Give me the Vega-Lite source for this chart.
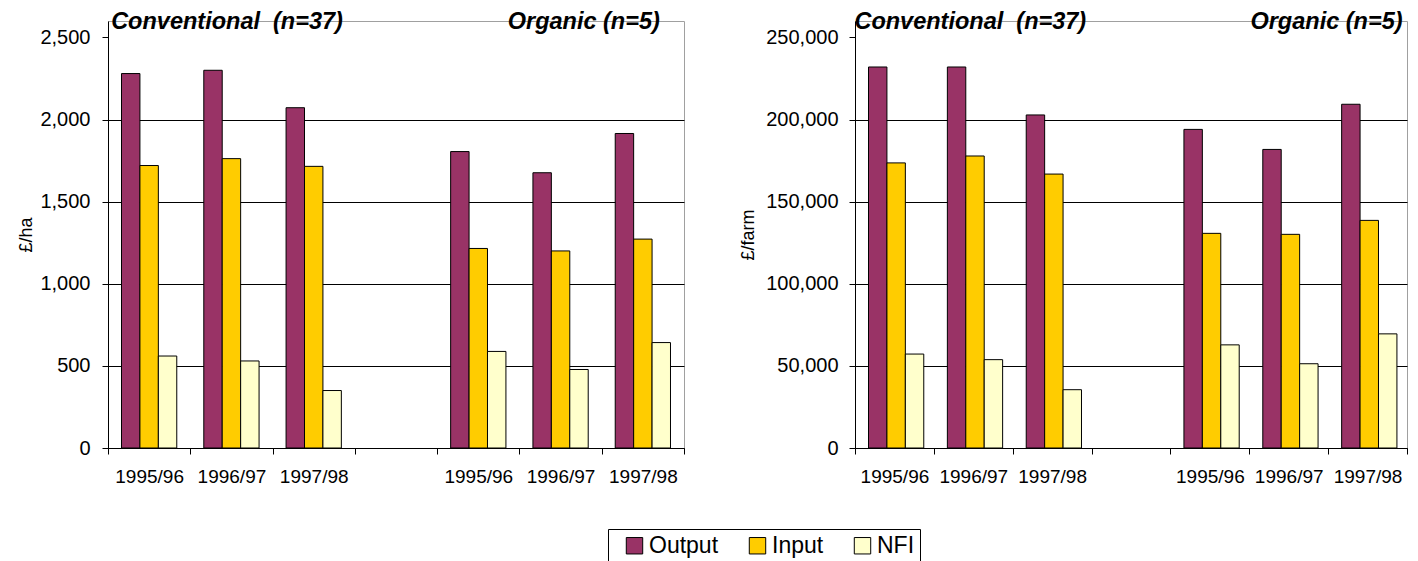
{
  "$schema": "https://vega.github.io/schema/vega-lite/v6.json",
  "background": "white",
  "padding": {"left": 17, "top": 9, "right": 5, "bottom": 0},
  "spacing": 54,
  "config": {
    "font": "Liberation Sans",
    "view": {"stroke": "#a0a0a0", "strokeWidth": 1},
    "axis": {"labelColor": "black", "titleColor": "black", "domainColor": "black", "tickColor": "black", "labelFont": "Liberation Sans", "titleFont": "Liberation Sans", "titleFontWeight": "normal"}
  },
  "datasets": {
    "ha": [
      {"period": "C1995/96", "series": "Output", "value": 2280},
      {"period": "C1995/96", "series": "Input", "value": 1720},
      {"period": "C1995/96", "series": "NFI", "value": 560},
      {"period": "C1996/97", "series": "Output", "value": 2300},
      {"period": "C1996/97", "series": "Input", "value": 1762},
      {"period": "C1996/97", "series": "NFI", "value": 530},
      {"period": "C1997/98", "series": "Output", "value": 2072},
      {"period": "C1997/98", "series": "Input", "value": 1715},
      {"period": "C1997/98", "series": "NFI", "value": 350},
      {"period": "O1995/96", "series": "Output", "value": 1805},
      {"period": "O1995/96", "series": "Input", "value": 1215},
      {"period": "O1995/96", "series": "NFI", "value": 588},
      {"period": "O1996/97", "series": "Output", "value": 1676},
      {"period": "O1996/97", "series": "Input", "value": 1200},
      {"period": "O1996/97", "series": "NFI", "value": 478},
      {"period": "O1997/98", "series": "Output", "value": 1915},
      {"period": "O1997/98", "series": "Input", "value": 1272},
      {"period": "O1997/98", "series": "NFI", "value": 642}
    ],
    "farm": [
      {"period": "C1995/96", "series": "Output", "value": 232000},
      {"period": "C1995/96", "series": "Input", "value": 173600},
      {"period": "C1995/96", "series": "NFI", "value": 57200},
      {"period": "C1996/97", "series": "Output", "value": 232000},
      {"period": "C1996/97", "series": "Input", "value": 177800},
      {"period": "C1996/97", "series": "NFI", "value": 53800},
      {"period": "C1997/98", "series": "Output", "value": 202800},
      {"period": "C1997/98", "series": "Input", "value": 166800},
      {"period": "C1997/98", "series": "NFI", "value": 35500},
      {"period": "O1995/96", "series": "Output", "value": 194000},
      {"period": "O1995/96", "series": "Input", "value": 130700},
      {"period": "O1995/96", "series": "NFI", "value": 62800},
      {"period": "O1996/97", "series": "Output", "value": 181800},
      {"period": "O1996/97", "series": "Input", "value": 130100},
      {"period": "O1996/97", "series": "NFI", "value": 51300},
      {"period": "O1997/98", "series": "Output", "value": 209300},
      {"period": "O1997/98", "series": "Input", "value": 138600},
      {"period": "O1997/98", "series": "NFI", "value": 69500}
    ]
  },
  "hconcat": [
    {
      "width": 576,
      "height": 427,
      "data": {"name": "ha"},
      "layer": [
        {
          "mark": {"type": "bar", "stroke": "black", "strokeWidth": 1},
          "encoding": {
            "x": {"field": "period", "type": "nominal", "title": null, "sort": null,
              "scale": {"domain": ["C1995/96", "C1996/97", "C1997/98", "gap", "O1995/96", "O1996/97", "O1997/98"], "paddingInner": 0, "paddingOuter": 0},
              "axis": {"labelExpr": "isString(datum.value) && datum.value != 'gap' ? substring(datum.value, 1) : ''", "labelAngle": 0, "tickBand": "extent", "labelFontSize": 19, "tickSize": 6, "labelPadding": 13, "grid": false}},
            "xOffset": {"field": "series", "type": "nominal", "scale": {"domain": ["Output", "Input", "NFI"], "paddingOuter": 0.733, "paddingInner": 0}},
            "y": {"field": "value", "type": "quantitative", "scale": {"domain": [0, 2500]},
              "axis": {"title": "£/ha", "values": [0, 500, 1000, 1500, 2000, 2500], "labelExpr": "format(datum.value, ',')", "labelFontSize": 20, "titleFontSize": 18, "grid": true, "gridColor": "black", "gridOpacity": {"condition": {"test": "datum.value >= 2500", "value": 0}, "value": 1}, "tickSize": 6, "labelPadding": 12, "titlePadding": 4}},
            "color": {"field": "series", "type": "nominal",
              "scale": {"domain": ["Output", "Input", "NFI"], "range": ["#993366", "#FFCC00", "#FFFFCC"]},
              "legend": {"title": null, "orient": "none", "legendX": 500, "legendY": 508, "direction": "horizontal", "symbolType": "square", "symbolSize": 270, "symbolStrokeColor": "black", "symbolStrokeWidth": 1, "labelFontSize": 23, "labelFont": "Liberation Sans", "labelColor": "black", "labelExpr": "datum.label == 'NFI' ? 'NFI\u00a0\u00a0' : datum.label", "strokeColor": "black", "padding": 5, "symbolOffset": 10, "columnPadding": 17, "labelOffset": 3}}
          }
        },
        {
          "data": {"values": [{"period": "C1995/96", "label": "Conventional\u00a0\u00a0(n=37)"}]},
          "mark": {"type": "text", "align": "left", "baseline": "alphabetic", "fontStyle": "italic", "fontWeight": "bold", "fontSize": 23.5, "dx": -38, "dy": -8},
          "encoding": {
            "x": {"field": "period", "type": "nominal", "title": null, "scale": {"domain": ["C1995/96", "C1996/97", "C1997/98", "gap", "O1995/96", "O1996/97", "O1997/98"]}},
            "y": {"datum": 2500},
            "text": {"field": "label"}
          }
        },
        {
          "data": {"values": [{"period": "O1997/98", "label": "Organic (n=5)"}]},
          "mark": {"type": "text", "align": "right", "baseline": "alphabetic", "fontStyle": "italic", "fontWeight": "bold", "fontSize": 23.5, "dx": 17, "dy": -8},
          "encoding": {
            "x": {"field": "period", "type": "nominal", "title": null, "scale": {"domain": ["C1995/96", "C1996/97", "C1997/98", "gap", "O1995/96", "O1996/97", "O1997/98"]}},
            "y": {"datum": 2500},
            "text": {"field": "label"}
          }
        }
      ]
    },
    {
      "width": 552,
      "height": 427,
      "data": {"name": "farm"},
      "layer": [
        {
          "mark": {"type": "bar", "stroke": "black", "strokeWidth": 1},
          "encoding": {
            "x": {"field": "period", "type": "nominal", "title": null, "sort": null,
              "scale": {"domain": ["C1995/96", "C1996/97", "C1997/98", "gap", "O1995/96", "O1996/97", "O1997/98"], "paddingInner": 0, "paddingOuter": 0},
              "axis": {"labelExpr": "isString(datum.value) && datum.value != 'gap' ? substring(datum.value, 1) : ''", "labelAngle": 0, "tickBand": "extent", "labelFontSize": 19, "tickSize": 6, "labelPadding": 13, "grid": false}},
            "xOffset": {"field": "series", "type": "nominal", "scale": {"domain": ["Output", "Input", "NFI"], "paddingOuter": 0.733, "paddingInner": 0}},
            "y": {"field": "value", "type": "quantitative", "scale": {"domain": [0, 250000]},
              "axis": {"title": "£/farm", "values": [0, 50000, 100000, 150000, 200000, 250000], "labelExpr": "format(datum.value, ',')", "labelFontSize": 20, "titleFontSize": 18, "grid": true, "gridColor": "black", "gridOpacity": {"condition": {"test": "datum.value >= 250000", "value": 0}, "value": 1}, "tickSize": 6, "labelPadding": 11, "titlePadding": 8}},
            "color": {"field": "series", "type": "nominal",
              "scale": {"domain": ["Output", "Input", "NFI"], "range": ["#993366", "#FFCC00", "#FFFFCC"]}}
          }
        },
        {
          "data": {"values": [{"period": "C1995/96", "label": "Conventional\u00a0\u00a0(n=37)"}]},
          "mark": {"type": "text", "align": "left", "baseline": "alphabetic", "fontStyle": "italic", "fontWeight": "bold", "fontSize": 23.5, "dx": -40, "dy": -8},
          "encoding": {
            "x": {"field": "period", "type": "nominal", "title": null, "scale": {"domain": ["C1995/96", "C1996/97", "C1997/98", "gap", "O1995/96", "O1996/97", "O1997/98"]}},
            "y": {"datum": 250000},
            "text": {"field": "label"}
          }
        },
        {
          "data": {"values": [{"period": "O1997/98", "label": "Organic (n=5)"}]},
          "mark": {"type": "text", "align": "right", "baseline": "alphabetic", "fontStyle": "italic", "fontWeight": "bold", "fontSize": 23.5, "dx": 35, "dy": -8},
          "encoding": {
            "x": {"field": "period", "type": "nominal", "title": null, "scale": {"domain": ["C1995/96", "C1996/97", "C1997/98", "gap", "O1995/96", "O1996/97", "O1997/98"]}},
            "y": {"datum": 250000},
            "text": {"field": "label"}
          }
        }
      ]
    }
  ]
}
